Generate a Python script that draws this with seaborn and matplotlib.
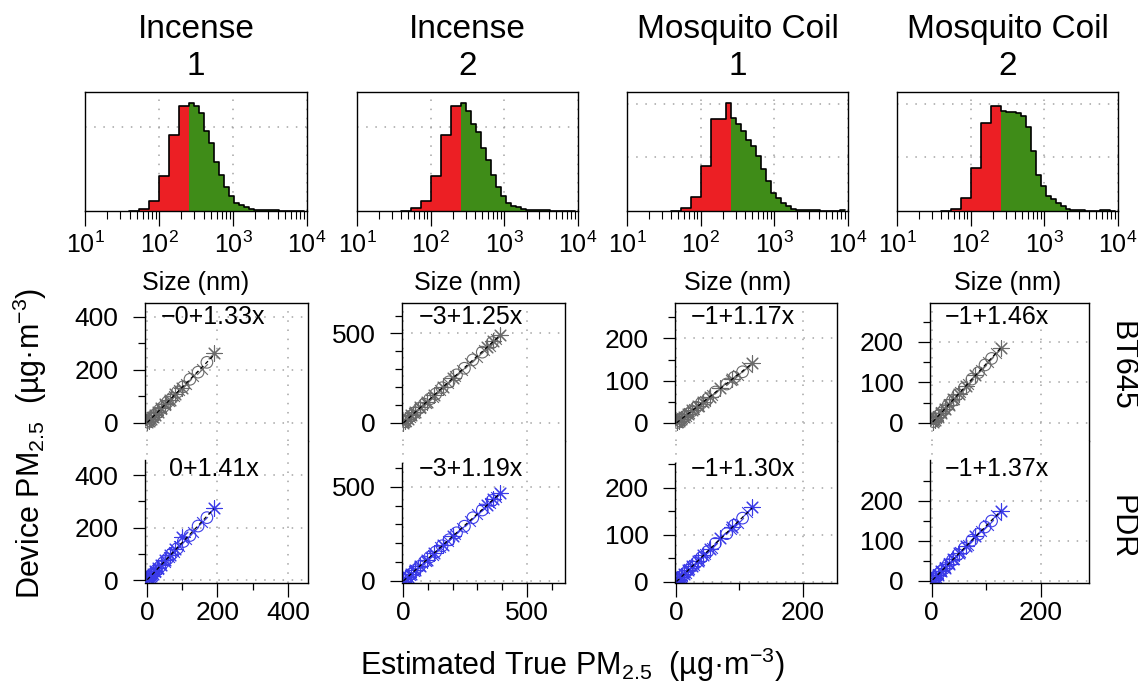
import numpy as np
import pandas as pd
import matplotlib
matplotlib.use("Agg")
import matplotlib.pyplot as plt
import seaborn as sns
from matplotlib.ticker import FixedLocator, LogLocator, NullFormatter

# ---------------- data ----------------
titles = ["Incense\n1", "Incense\n2", "Mosquito Coil\n1", "Mosquito Coil\n2"]
devices = ["BT645", "PDR"]

# size distributions, log10(nm) bins of 0.0675 decade starting at 10**1.60 nm
# (12 fine bins in red up to ~257 nm, then 23 bins in green), heights as fraction of panel
size_edges = [round(1.60 + 0.0675 * k, 4) for k in range(36)]

inc1_red = [0.0, 0.003, 0.015, 0.015, 0.08, 0.08, 0.29, 0.29, 0.64, 0.64, 0.88, 0.88]
inc1_green = [0.91, 0.88, 0.82, 0.67, 0.57, 0.41, 0.30, 0.20, 0.13, 0.07, 0.05, 0.03,
              0.017, 0.01, 0.006, 0.008, 0.01, 0.006, 0.003, 0.002, 0.001, 0.0, 0.0]
inc2_red = [0.0, 0.004, 0.023, 0.023, 0.08, 0.08, 0.29, 0.29, 0.64, 0.64, 0.88, 0.88]
inc2_green = [0.91, 0.84, 0.73, 0.66, 0.53, 0.43, 0.30, 0.20, 0.13, 0.07, 0.04, 0.03,
              0.017, 0.01, 0.006, 0.005, 0.008, 0.006, 0.003, 0.002, 0.001, 0.0, 0.0]
coil1_red = [0.0, 0.003, 0.023, 0.023, 0.12, 0.12, 0.38, 0.38, 0.77, 0.77, 0.77, 0.91]
coil1_green = [0.78, 0.73, 0.67, 0.60, 0.55, 0.46, 0.35, 0.25, 0.15, 0.11, 0.07, 0.04,
               0.02, 0.012, 0.008, 0.008, 0.01, 0.005, 0.003, 0.002, 0.002, 0.004, 0.01]
coil2_red = [0.0, 0.0, 0.015, 0.015, 0.11, 0.11, 0.36, 0.36, 0.74, 0.74, 0.88, 0.88]
coil2_green = [0.84, 0.83, 0.83, 0.82, 0.80, 0.71, 0.50, 0.30, 0.21, 0.13, 0.10, 0.07,
               0.04, 0.02, 0.01, 0.006, 0.005, 0.004, 0.003, 0.003, 0.005, 0.007, 0.004]

hist_red = [inc1_red, inc2_red, coil1_red, coil2_red]
hist_green = [inc1_green, inc2_green, coil1_green, coil2_green]
hist_grid = [[0.71], [0.71], [0.45, 0.90], [0.45, 0.895]]

# device vs estimated true PM2.5 (ug/m3); three runs per source: o, x, *
inc1_true = [170, 145, 122, 103, 86, 71, 58, 46, 36, 27, 19, 12, 6, 2,
             155, 131, 110, 92, 76, 62, 50, 39, 30, 22, 15, 9, 4,
             190, 98, 80, 65, 52, 41, 31, 23, 16, 10, 5, 1]
inc1_bt645 = [228, 191, 164, 136, 116, 93, 78, 60, 49, 35, 26, 16, 8, 2,
              204, 176, 145, 123, 100, 83, 66, 52, 39, 30, 20, 12, 5,
              264, 132, 108, 87, 70, 54, 42, 31, 22, 14, 7, 1]
inc1_pdr = [238, 206, 170, 147, 120, 101, 81, 66, 50, 39, 27, 17, 9, 3,
            221, 184, 156, 129, 108, 88, 70, 56, 43, 31, 21, 13, 6,
            276, 165, 118, 95, 75, 59, 45, 33, 23, 14, 7, 2]
inc1_runs = [14, 13, 12]

inc2_true = [360, 320, 282, 248, 216, 186, 158, 132, 108, 86, 66, 48, 32, 18, 7,
             375, 350, 325, 300, 270, 240, 210, 180, 150, 120, 92, 68, 46, 28, 12, 4,
             390, 365, 340, 200, 160, 125, 95, 70, 50, 34, 20, 9, 2]
inc2_bt645 = [449, 395, 352, 305, 268, 229, 196, 161, 133, 104, 81, 57, 38, 20, 6,
              470, 432, 406, 370, 337, 296, 262, 221, 186, 146, 113, 82, 54, 33, 12, 2,
              490, 458, 425, 250, 199, 154, 117, 86, 61, 41, 23, 9, 1]
inc2_pdr = [427, 376, 335, 290, 255, 218, 186, 153, 126, 100, 76, 55, 35, 18, 5,
            446, 412, 386, 353, 320, 282, 249, 210, 177, 139, 107, 78, 52, 31, 11, 2,
            465, 434, 404, 237, 189, 147, 111, 81, 57, 38, 21, 8, 1]
inc2_runs = [15, 16, 13]

coil1_true = [105, 92, 80, 62, 50, 40, 32, 25, 19, 14, 9, 5, 2,
              112, 98, 86, 57, 45, 36, 28, 21, 15, 10, 6, 3,
              120, 88, 70, 54, 43, 34, 26, 19, 13, 8, 4, 1]
coil1_bt645 = [121, 108, 92, 73, 57, 47, 37, 28, 21, 15, 10, 5, 1,
               132, 113, 101, 65, 52, 41, 32, 24, 17, 11, 6, 3,
               142, 104, 82, 62, 50, 39, 30, 22, 14, 8, 4, 1]
coil1_pdr = [135, 120, 102, 81, 64, 51, 40, 32, 24, 17, 11, 6, 2,
             147, 125, 112, 72, 58, 46, 36, 26, 19, 12, 7, 3,
             158, 117, 92, 70, 56, 43, 33, 24, 16, 9, 4, 1]
coil1_runs = [13, 12, 12]

coil2_true = [110, 98, 86, 74, 60, 48, 38, 30, 23, 17, 12, 7, 3,
              118, 104, 90, 66, 52, 41, 32, 25, 18, 12, 8, 4,
              127, 80, 63, 50, 40, 31, 24, 17, 11, 6, 2]
coil2_bt645 = [159, 143, 124, 108, 86, 70, 55, 43, 32, 24, 17, 10, 3,
               173, 150, 131, 95, 76, 59, 46, 35, 26, 17, 11, 5,
               186, 118, 92, 72, 58, 45, 34, 24, 15, 8, 2]
coil2_pdr = [149, 134, 116, 101, 81, 65, 51, 40, 30, 23, 16, 9, 3,
             163, 140, 123, 89, 71, 55, 43, 33, 24, 16, 10, 5,
             175, 111, 86, 68, 54, 42, 32, 23, 14, 7, 2]
coil2_runs = [13, 12, 11]

true_pm = [inc1_true, inc2_true, coil1_true, coil2_true]
bt645_pm = [inc1_bt645, inc2_bt645, coil1_bt645, coil2_bt645]
pdr_pm = [inc1_pdr, inc2_pdr, coil1_pdr, coil2_pdr]
run_sizes = [inc1_runs, inc2_runs, coil1_runs, coil2_runs]

bt645_eq = ["\u22120+1.33x", "\u22123+1.25x", "\u22121+1.17x", "\u22121+1.46x"]
pdr_eq = ["0+1.41x", "\u22123+1.19x", "\u22121+1.30x", "\u22121+1.37x"]

# axis ticks per column
x_major = [[0, 200, 400], [0, 500], [0, 200], [0, 200]]
x_minor = [[100, 300], [100, 200, 300, 400, 600], [100], [100]]
y_major = [[0, 200, 400], [0, 500], [0, 100, 200], [0, 100, 200]]
y_minor = [[100, 300], [100, 200, 300, 400, 600], [50, 150, 250], [50, 150, 250]]

# ---------------- layout (pixels) ----------------
W, H = 1138, 692
hist_x = [(85, 307), (357, 578), (627, 848), (897, 1118)]
scat_x = [(145, 308), (402, 565), (675, 837), (930, 1089)]
x_lims = [(-5.7, 457), (-4, 654), (-1.6, 254), (-3.1, 289)]
top_ylims = [(-69, 452), (-102, 670), (-43, 284), (-45, 296)]
bot_ylims = [(-11, 530), (-12, 743), (-3, 299), (-6, 349)]
bot_spine_top = [457, 626, 252, 302]

RED = "#ec1f24"
GREEN = "#3f8c18"
GRAY = "#6a6a6a"
BLUE = "#3b3be8"
markers = ["o", "x", (8, 2, 0)]
grid_kw = dict(color="#a4a4a4", linestyle=(0, (1, 5)), linewidth=1.1)

sns.set_theme(style="ticks", rc={"axes.edgecolor": "black", "xtick.color": "black",
                                 "ytick.color": "black", "axes.linewidth": 1.0,
                                 "text.color": "black", "axes.labelcolor": "black"})
plt.rcParams["font.family"] = ["Liberation Sans", "DejaVu Sans"]
plt.rcParams["mathtext.fontset"] = "custom"
plt.rcParams["mathtext.rm"] = "Liberation Sans"
plt.rcParams["mathtext.it"] = "Liberation Sans:italic"
plt.rcParams["mathtext.bf"] = "Liberation Sans:bold"


def rect(x0, x1, y0, y1):
    return [x0 / W, 1 - y1 / H, (x1 - x0) / W, (y1 - y0) / H]


fig = plt.figure(figsize=(W / 100, H / 100), dpi=100)

# ---------------- size distributions ----------------
log_edges = np.array(size_edges)
centers = 10 ** ((log_edges[:-1] + log_edges[1:]) / 2)
for c in range(4):
    ax = fig.add_axes(rect(hist_x[c][0], hist_x[c][1], 92, 211))
    heights = hist_red[c] + hist_green[c]
    part = ["fine"] * len(hist_red[c]) + ["coarse"] * len(hist_green[c])
    df = pd.DataFrame({"size": centers, "w": heights, "part": part})
    sns.histplot(df, x="size", weights="w", hue="part", bins=size_edges, log_scale=True,
                 element="step", fill=True, alpha=1, linewidth=0, multiple="layer",
                 palette={"fine": RED, "coarse": GREEN}, legend=False, ax=ax)
    sns.histplot(df, x="size", weights="w", bins=size_edges, log_scale=True,
                 element="step", fill=False, color="black", linewidth=1.2, ax=ax)
    ax.set_xlim(10, 1e4)
    ax.set_ylim(0, 1)
    ax.set_axisbelow(True)
    ax.xaxis.set_major_locator(LogLocator(base=10, numticks=10))
    ax.xaxis.set_minor_locator(LogLocator(base=10, subs=np.arange(2, 10), numticks=30))
    ax.xaxis.set_minor_formatter(NullFormatter())
    ax.set_yticks(hist_grid[c])
    ax.tick_params(axis="y", length=0, labelleft=False)
    ax.tick_params(axis="x", which="major", direction="out", length=11, width=0.9,
                   pad=4, labelsize=18)
    ax.tick_params(axis="x", which="minor", direction="out", length=5.5, width=0.8)
    ax.grid(True, which="major", **grid_kw)
    ax.set_ylabel("")
    ax.set_xlabel("Size (nm)", fontsize=18, labelpad=9)
    ax.set_title(titles[c], fontsize=24, pad=12, linespacing=1.25)

# ---------------- device vs true PM2.5 ----------------
for c in range(4):
    ax_top = fig.add_axes(rect(scat_x[c][0], scat_x[c][1], 303, 441))
    ax_bot = fig.add_axes(rect(scat_x[c][0], scat_x[c][1], 441, 583))
    runs = []
    for r, n in enumerate(run_sizes[c]):
        runs += [r] * n
    df = pd.DataFrame({"true": true_pm[c], "BT645": bt645_pm[c],
                       "PDR": pdr_pm[c], "run": runs})

    panels = [(ax_top, "BT645", GRAY, bt645_eq[c], top_ylims[c], 0.90),
              (ax_bot, "PDR", BLUE, pdr_eq[c], bot_ylims[c], 0.80)]
    for ax, dev, col, eq, ylim, ty in panels:
        for r, m in enumerate(markers):
            sub = df[df["run"] == r]
            if m == "o":
                sns.scatterplot(data=sub, x="true", y=dev, marker="o", s=70,
                                color=col, facecolor="none", edgecolor=col,
                                linewidth=0.8, ax=ax)
            else:
                sns.scatterplot(data=sub, x="true", y=dev, marker=m,
                                s=60 if m == "x" else 120, color=col,
                                linewidth=0.8, ax=ax)
        sns.regplot(data=df, x="true", y=dev, scatter=False, ci=None, color="black",
                    line_kws={"linewidth": 0.9, "linestyle": (0, (3, 2.5))}, ax=ax)
        ax.set_xlim(*x_lims[c])
        ax.set_ylim(*ylim)
        ax.set_xlabel("")
        ax.set_ylabel("")
        ax.set_axisbelow(True)
        ax.xaxis.set_major_locator(FixedLocator(x_major[c]))
        ax.xaxis.set_minor_locator(FixedLocator(x_minor[c]))
        ax.yaxis.set_major_locator(FixedLocator(y_major[c]))
        ax.yaxis.set_minor_locator(FixedLocator(y_minor[c]))
        ax.grid(True, which="major", **grid_kw)
        ax.tick_params(axis="y", which="major", length=9, width=0.9, pad=10, labelsize=19)
        ax.tick_params(axis="y", which="minor", length=5, width=0.9)
        ax.tick_params(axis="x", which="major", length=10, width=0.9, pad=3, labelsize=19)
        ax.tick_params(axis="x", which="minor", length=5, width=0.9)
        ax.text(0.42, ty, eq, transform=ax.transAxes, ha="center", va="center",
                fontsize=18)

    ax_top.spines["bottom"].set_visible(False)
    ax_top.spines["left"].set_bounds(0, top_ylims[c][1])
    ax_top.tick_params(axis="x", which="both", bottom=False, labelbottom=False)
    ax_bot.spines["top"].set_visible(False)
    ax_bot.spines["left"].set_bounds(0, bot_spine_top[c])

# ---------------- shared labels ----------------
fig.text(30 / W, 1 - 443 / H, "Device PM$_{2.5}$  (µg·m$^{-3}$)", rotation=90,
         ha="center", va="center", fontsize=22)
fig.text(572 / W, 1 - 665 / H, "Estimated True PM$_{2.5}$  (µg·m$^{-3}$)",
         ha="center", va="center", fontsize=22)
fig.text(1122 / W, 1 - 366 / H, devices[0], rotation=-90, ha="center", va="center",
         fontsize=22)
fig.text(1122 / W, 1 - 527 / H, devices[1], rotation=-90, ha="center", va="center",
         fontsize=22)

fig.savefig("out.png", dpi=100)
